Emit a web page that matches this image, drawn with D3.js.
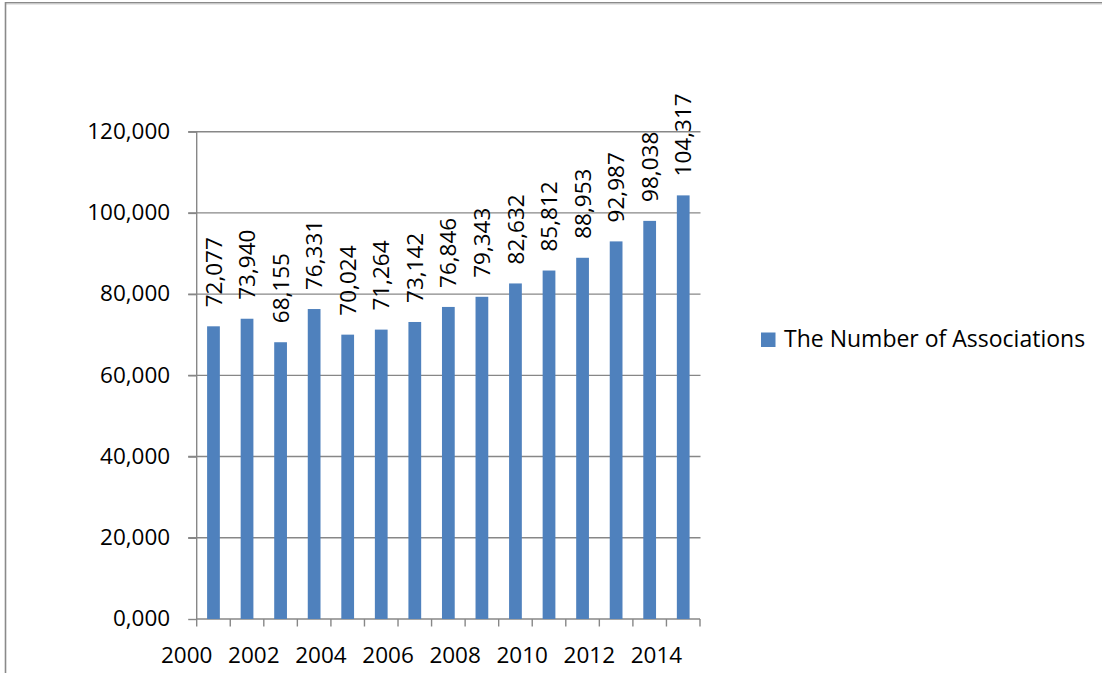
<!DOCTYPE html>
<html>
<head>
<meta charset="utf-8">
<script src="https://cdnjs.cloudflare.com/ajax/libs/d3/7.8.5/d3.min.js"></script>
<style>
  body { margin: 0; background: #fff; }
  svg { display: block; font-family: "Open Sans", sans-serif; }
</style>
</head>
<body>
<div id="chart"></div>
<script>
// data
var years = [2000, 2001, 2002, 2003, 2004, 2005, 2006, 2007, 2008, 2009, 2010, 2011, 2012, 2013, 2014];
var associations = [72077, 73940, 68155, 76331, 70024, 71264, 73142, 76846, 79343, 82632, 85812, 88953, 92987, 98038, 104317];
var yTicks = [0, 20000, 40000, 60000, 80000, 100000, 120000];
var yTickLabels = ["0,000", "20,000", "40,000", "60,000", "80,000", "100,000", "120,000"];
var xTickLabels = ["2000", "2002", "2004", "2006", "2008", "2010", "2012", "2014"];
var seriesName = "The Number of Associations";

var W = 1102, H = 673;
var plot = { left: 196.7, right: 700, top: 131.7, bottom: 619 };
var fontSize = 22.5;
var gridColor = "#878787";
var barColor = "#4f81bd";

var svg = d3.select("#chart").append("svg")
	.attr("width", W)
	.attr("height", H);

// chart frame (top and left edges visible)
svg.append("line")
	.attr("x1", 5).attr("x2", W).attr("y1", 2.8).attr("y2", 2.8)
	.attr("stroke", "#8a8a8a").attr("stroke-width", 1.6);
svg.append("line")
	.attr("x1", 6).attr("x2", W).attr("y1", 4.3).attr("y2", 4.3)
	.attr("stroke", "#e2e2e2").attr("stroke-width", 1);
svg.append("line")
	.attr("x1", 5.5).attr("x2", 5.5).attr("y1", 2).attr("y2", H)
	.attr("stroke", "#8a8a8a").attr("stroke-width", 1.6);

var x = d3.scaleBand()
	.domain(years)
	.range([plot.left, plot.right])
	.paddingInner(0.62)
	.paddingOuter(0.31);

var xEdge = d3.scaleLinear()
	.domain([0, years.length])
	.range([plot.left, plot.right]);

var y = d3.scaleLinear()
	.domain([0, 120000])
	.range([plot.bottom, plot.top]);

// gridlines
var g = svg.append("g");
g.selectAll(".grid")
	.data(yTicks.slice(1))
	.enter().append("line")
	.attr("class", "grid")
	.attr("x1", plot.left - 8.5)
	.attr("x2", plot.right + 0.5)
	.attr("y1", function (d) { return y(d); })
	.attr("y2", function (d) { return y(d); })
	.attr("stroke", gridColor)
	.attr("stroke-width", 1.4);

// y axis
var yAxis = d3.axisLeft(y)
	.tickValues(yTicks)
	.tickSize(8.5)
	.tickPadding(18)
	.tickFormat(function (d, i) { return yTickLabels[i]; });

var gy = svg.append("g")
	.attr("transform", "translate(" + plot.left + ",0)")
	.call(yAxis);
gy.select(".domain")
	.attr("d", "M0," + plot.top + "V" + plot.bottom)
	.attr("stroke", gridColor).attr("stroke-width", 1.4);
gy.selectAll(".tick line").attr("stroke", gridColor).attr("stroke-width", 1.4);
gy.selectAll(".tick text")
	.attr("fill", "#000")
	.attr("font-size", fontSize)
	.attr("font-family", "Open Sans, sans-serif")
	.attr("dy", "0.30em");

// x axis line + boundary ticks
var edges = d3.range(years.length + 1);
svg.append("line")
	.attr("x1", plot.left).attr("x2", plot.right)
	.attr("y1", plot.bottom).attr("y2", plot.bottom)
	.attr("stroke", gridColor).attr("stroke-width", 1.4);
svg.selectAll(".xtick")
	.data(edges)
	.enter().append("line")
	.attr("class", "xtick")
	.attr("x1", function (d) { return xEdge(d); })
	.attr("x2", function (d) { return xEdge(d); })
	.attr("y1", plot.bottom)
	.attr("y2", plot.bottom + 7.5)
	.attr("stroke", gridColor).attr("stroke-width", 1.4);

// x labels (every second year, under the left edge)
svg.selectAll(".xlabel")
	.data(xTickLabels)
	.enter().append("text")
	.attr("class", "xlabel")
	.attr("x", function (d) { return xEdge(years.indexOf(+d)) - 10; })
	.attr("y", 663.3)
	.attr("text-anchor", "middle")
	.attr("font-size", fontSize)
	.text(function (d) { return d; });

// bars
svg.selectAll(".bar")
	.data(associations)
	.enter().append("rect")
	.attr("class", "bar")
	.attr("x", function (d, i) { return x(years[i]); })
	.attr("y", function (d) { return y(d); })
	.attr("width", x.bandwidth())
	.attr("height", function (d) { return plot.bottom - y(d); })
	.attr("fill", barColor);

// data labels (rotated)
var fmt = d3.format(",");
svg.selectAll(".dlabel")
	.data(associations)
	.enter().append("text")
	.attr("class", "dlabel")
	.attr("transform", function (d, i) {
		var cx = x(years[i]) + x.bandwidth() / 2;
		return "translate(" + cx + "," + (y(d) - 19) + ") rotate(-90)";
	})
	.attr("dy", "0.36em")
	.attr("font-size", fontSize)
	.text(function (d) { return fmt(d); });

// legend
var legend = svg.append("g");
legend.append("rect")
	.attr("x", 761).attr("y", 332.5)
	.attr("width", 14.5).attr("height", 14.5)
	.attr("fill", barColor);
legend.append("text")
	.attr("x", 784).attr("y", 347)
	.attr("font-size", 23)
	.text(seriesName);
</script>
</body>
</html>
